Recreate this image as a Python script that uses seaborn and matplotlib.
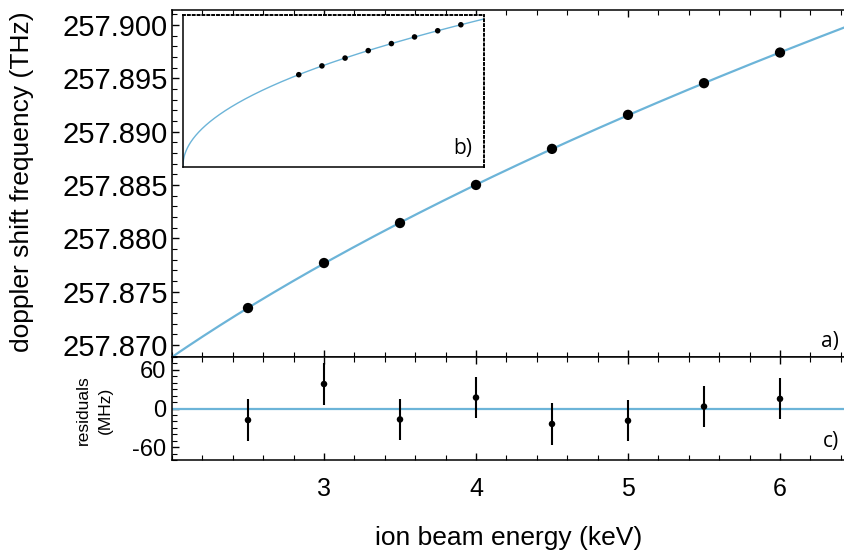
import numpy as np
import pandas as pd
import matplotlib
matplotlib.use("Agg")
import matplotlib.pyplot as plt
from matplotlib.ticker import MultipleLocator, FormatStrFormatter
import seaborn as sns

# measured Doppler-shifted resonance frequencies vs. ion beam energy
energy_kev = [2.5, 3.0, 3.5, 4.0, 4.5, 5.0, 5.5, 6.0]
freq_thz = [257.87347, 257.87769, 257.88144, 257.88501,
            257.88839, 257.89158, 257.89455, 257.89742]
# residuals of the fit (MHz) and their uncertainties
resid_mhz = [-18, 38, -17, 17, -24, -19, 3, 15]
resid_err_mhz = [32, 32, 32, 32, 32, 32, 32, 32]

main_ticks_y = [257.870, 257.875, 257.880, 257.885, 257.890, 257.895, 257.900]
resid_ticks = [-60, 0, 60]
energy_ticks = [3, 4, 5, 6]

FIT_COLOR = "#6cb4d8"

sns.set_theme(style="ticks")
plt.rcParams["font.family"] = ["Liberation Sans", "DejaVu Sans"]
plt.rcParams.update({
    "axes.linewidth": 1.1,
    "axes.edgecolor": "black",
    "axes.labelcolor": "black",
    "text.color": "black",
    "xtick.color": "black",
    "ytick.color": "black",
    "axes.unicode_minus": False,
})

# Doppler shift grows as sqrt(E): fit f = a + b*sqrt(E)
b_fit, a_fit = np.polyfit(np.sqrt(energy_kev), freq_thz, 1)


def fit_curve(e_lo, e_hi, n=400):
    e = np.linspace(e_lo, e_hi, n)
    return pd.DataFrame({"E": e, "f": a_fit + b_fit * np.sqrt(e)})


W, H = 845, 552
fig = plt.figure(figsize=(W / 100, H / 100), dpi=100)

x0, x1 = 2.0, 6.5
ax_left = 172 / W
ax_width = (x1 - x0) * 152 / W

main_bottom = 1 - 357 / H
main_top = 1 - 10 / H
res_bottom = 1 - 460 / H

ax = fig.add_axes([ax_left, main_bottom, ax_width, main_top - main_bottom])
axr = fig.add_axes([ax_left, res_bottom, ax_width, main_bottom - res_bottom])
axi = fig.add_axes([183 / W, 1 - 167 / H, (484 - 183) / W, (167 - 15) / H])

pts = pd.DataFrame({"E": energy_kev, "f": freq_thz})

# ---- panel a: frequencies with fit ----
sns.lineplot(data=fit_curve(x0, x1), x="E", y="f", ax=ax, color=FIT_COLOR,
             linewidth=1.6, zorder=2)
sns.scatterplot(data=pts, x="E", y="f", ax=ax, color="black", s=55,
                edgecolor="none", zorder=3)
ax.set_xlim(x0, x1)
ax.set_ylim(257.86888, 257.90141)
ax.set_yticks(main_ticks_y)
ax.yaxis.set_major_formatter(FormatStrFormatter("%.3f"))
ax.yaxis.set_minor_locator(MultipleLocator(0.001))
ax.set_xticks(energy_ticks)
ax.xaxis.set_minor_locator(MultipleLocator(0.2))
ax.tick_params(axis="both", which="both", direction="in", top=True,
               right=False, labelbottom=False)
ax.tick_params(axis="both", which="major", length=5, width=1)
ax.tick_params(axis="both", which="minor", length=3.5, width=0.8)
ax.tick_params(axis="y", labelsize=21, pad=3)
ax.set_xlabel("")
ax.set_ylabel("")
ax.spines["right"].set_visible(False)

# ---- panel c: residuals ----
axr.axhline(0, color=FIT_COLOR, linewidth=1.6, zorder=1)
axr.errorbar(energy_kev, resid_mhz, yerr=resid_err_mhz, fmt="none",
             ecolor="black", elinewidth=1.5, capsize=0, zorder=2)
sns.scatterplot(x=energy_kev, y=resid_mhz, ax=axr, color="black", s=22,
                edgecolor="none", zorder=3)
axr.set_xlim(x0, x1)
axr.set_ylim(-80, 80)
axr.set_yticks(resid_ticks)
axr.yaxis.set_minor_locator(MultipleLocator(10))
axr.set_xticks(energy_ticks)
axr.xaxis.set_minor_locator(MultipleLocator(0.2))
axr.tick_params(axis="both", which="both", direction="in", top=True,
                right=False)
axr.tick_params(axis="both", which="major", length=5, width=1)
axr.tick_params(axis="both", which="minor", length=3.5, width=0.8)
axr.tick_params(axis="y", labelsize=17, pad=4)
axr.tick_params(axis="x", labelsize=18, pad=12)
axr.set_xlabel("")
axr.set_ylabel("")
axr.spines["right"].set_visible(False)

# ---- panel b: inset over the full energy range ----
axi.set_facecolor("white")
sns.lineplot(data=fit_curve(0.0, 6.5, 800), x="E", y="f", ax=axi,
             color=FIT_COLOR, linewidth=1.0, zorder=2)
sns.scatterplot(data=pts, x="E", y="f", ax=axi, color="black", s=16,
                edgecolor="none", zorder=3)
axi.set_xlim(0, 6.5)
axi.set_ylim(257.8292, 257.9021)
axi.set_xticks([])
axi.set_yticks([])
axi.set_xlabel("")
axi.set_ylabel("")
for side in ("top", "right"):
    axi.spines[side].set_linestyle((0, (1, 1.5)))
    axi.spines[side].set_linewidth(1.4)

# ---- labels ----
fig.text(22.5 / W, 1 - 181.5 / H, "doppler shift frequency (THz)",
         rotation=90, ha="center", va="center", fontsize=19)
fig.text(94 / W, 1 - 410 / H, "residuals\n(MHz)", rotation=90,
         ha="center", va="center", fontsize=12.5, linespacing=1.6)
fig.text(509 / W, 1 - 538 / H, "ion beam energy (keV)",
         ha="center", va="center", fontsize=19)

panel_font = ["Open Sans", "DejaVu Sans"]
fig.text(839 / W, 1 - 341 / H, "a)", ha="right", va="center",
         fontsize=15, family=panel_font)
fig.text(472 / W, 1 - 148 / H, "b)", ha="right", va="center",
         fontsize=15, family=panel_font)
fig.text(839 / W, 1 - 442 / H, "c)", ha="right", va="center",
         fontsize=15, family=panel_font)

fig.savefig("out.png", dpi=100)
